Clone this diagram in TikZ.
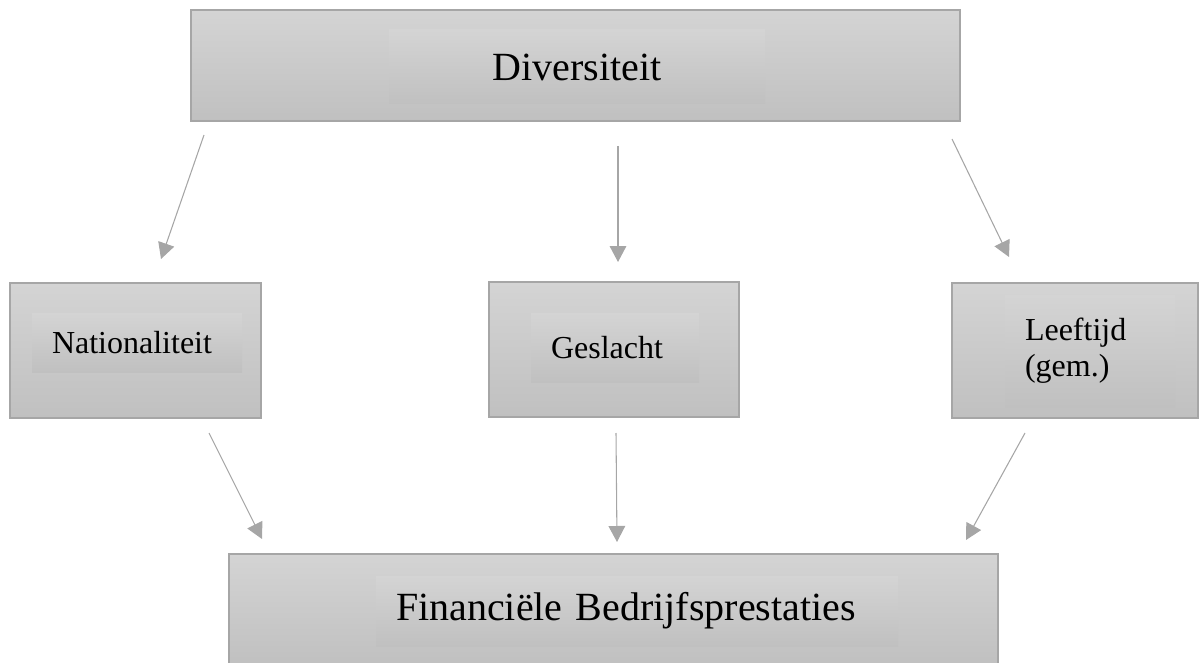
\documentclass[tikz,border=0pt]{standalone}
\usepackage{fontspec}
\setmainfont{Liberation Serif}
\usetikzlibrary{arrows.meta}

\definecolor{boxtop}{HTML}{D4D4D4}
\definecolor{boxbot}{HTML}{C0C0C0}
\definecolor{boxline}{HTML}{A6A6A6}

\tikzset{
  box/.style={draw=boxline,line width=1.1pt,top color=boxtop,bottom color=boxbot,inner sep=0pt},
  txtbox/.style={top color=boxtop,bottom color=boxbot,inner xsep=15pt,inner ysep=0pt,align=left,
    font=\fontsize{24}{27}\selectfont},
  arr/.style={draw=boxline,line width=0.8pt,-{Triangle[length=12pt,width=12.5pt]}}
}

\begin{document}
\begin{tikzpicture}[x=0.75pt,y=-0.75pt]
    \useasboundingbox (0,0) rectangle (1199,663);
    \node[box,minimum width=576.75pt,minimum height=83.25pt] (div) at (575.5,65.5) {};
    \node[txtbox,align=center,text width=252pt,minimum height=55.5pt,font=\fontsize{30}{34}\selectfont] (divtxt) at (577,67) {Diversiteit};
    \node[box,minimum width=188.25pt,minimum height=101.25pt] (nat) at (135.5,350.5) {};
    \node[txtbox,text width=127.5pt,minimum height=44.25pt] (nattxt) at (137,342.5) {Nationaliteit};
    \node[box,minimum width=187.5pt,minimum height=101.25pt] (ges) at (614,349.5) {};
    \node[txtbox,text width=96pt,minimum height=51.75pt] (gestxt) at (615,347.5) {Geslacht};
    \node[box,minimum width=184.5pt,minimum height=101.25pt] (lft) at (1075,350.5) {};
    \node[txtbox,text width=97.5pt,minimum height=84pt] (lfttxt) at (1090,351) {Leeftijd\\(gem.)};
    \node[box,minimum width=576.75pt,minimum height=83.25pt] (fin) at (613.5,609.5) {};
    \node[txtbox,text width=361.5pt,minimum height=52.5pt,font=\fontsize{30}{34}\selectfont] (fintxt) at (637,611) {Financiële Bedrijfsprestaties};
    \coordinate (dn1) at (204,135);  \coordinate (dn1e) at (161,259);
    \coordinate (dn2) at (618,146);  \coordinate (dn2e) at (618,262);
    \coordinate (dn3) at (952,139);  \coordinate (dn3e) at (1009,257);
    \coordinate (up1) at (209,433);  \coordinate (up1e) at (262,539);
    \coordinate (up2) at (616,433);  \coordinate (up2e) at (617,542);
    \coordinate (up3) at (1025,433); \coordinate (up3e) at (966,540);
    \draw[arr] (dn1) -- (dn1e);
    \draw[arr] (dn2) -- (dn2e);
    \draw[arr] (dn3) -- (dn3e);
    \draw[arr] (up1) -- (up1e);
    \draw[arr] (up2) -- (up2e);
    \draw[arr] (up3) -- (up3e);
  \end{tikzpicture}
\end{document}
